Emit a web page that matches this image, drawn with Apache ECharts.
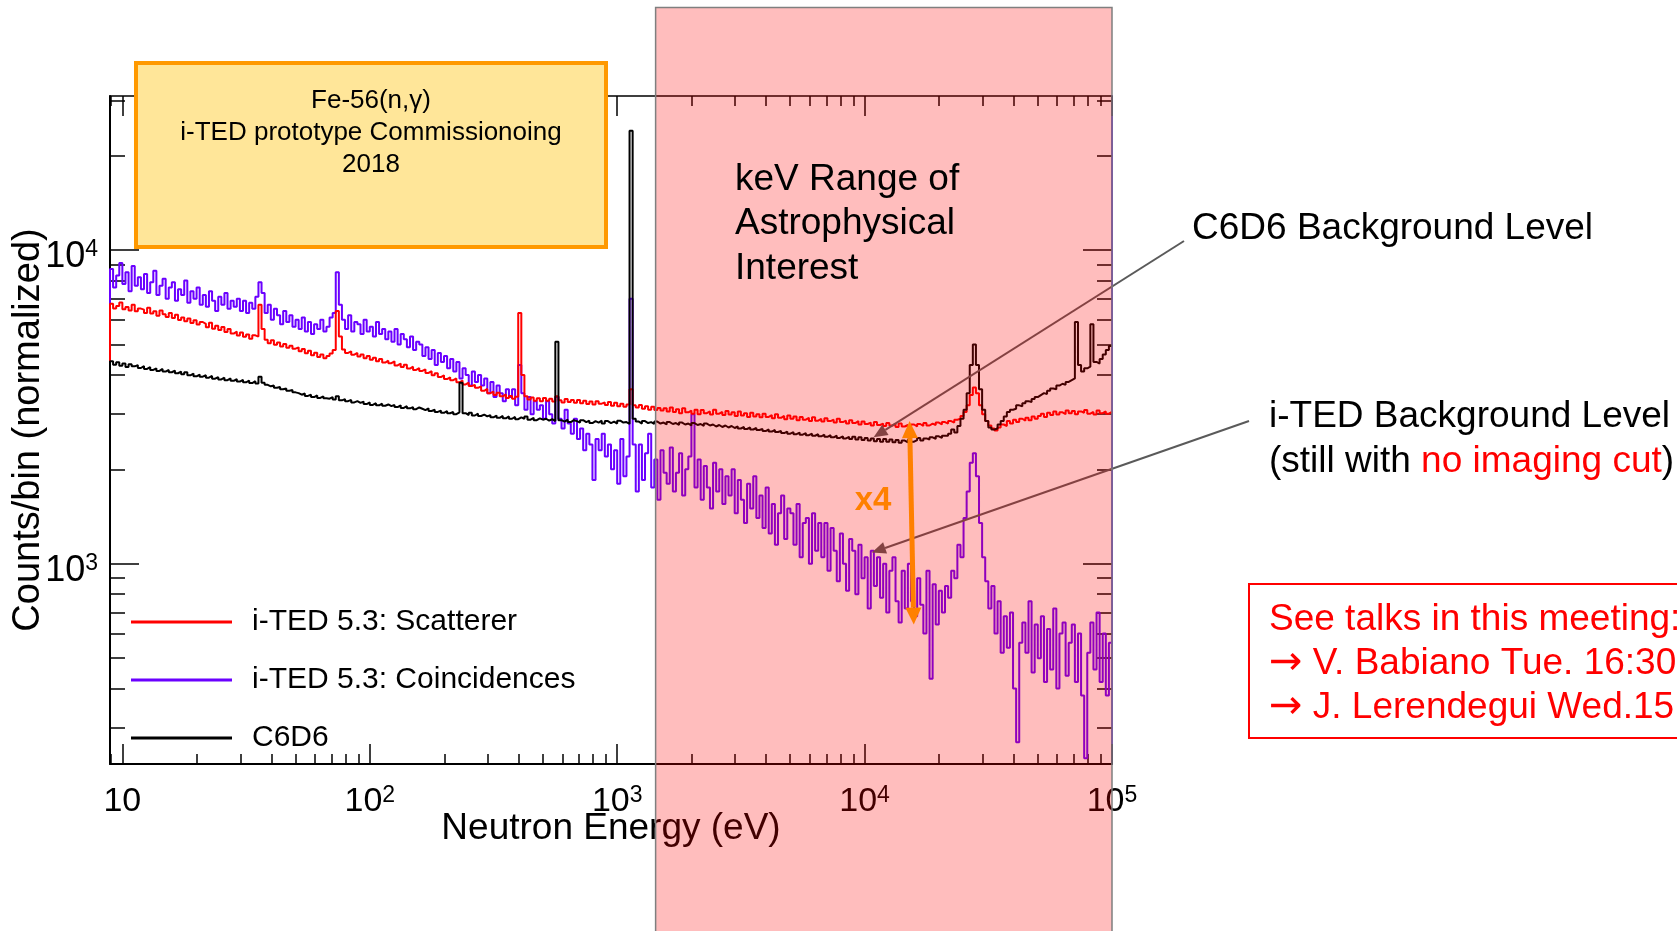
<!DOCTYPE html>
<html>
<head>
<meta charset="utf-8">
<script src="https://cdn.jsdelivr.net/npm/echarts@6/dist/echarts.min.js"></script>
<style>
  html, body { margin: 0; padding: 0; background: #ffffff; }
  #chart { width: 1677px; height: 931px; }
</style>
</head>
<body>
<div id="chart"></div>
<script>
const FONT = '"Liberation Sans", Arial, Helvetica, sans-serif';

// Histogram binning: equal-width bins in log10(E / eV)
const BIN_LOG_START = 0.95;
const BIN_LOG_WIDTH = 0.0125;

const seriesNames = ['i-TED 5.3: Scatterer', 'i-TED 5.3: Coincidences', 'C6D6'];
const seriesColors = ['#ff0000', '#6a00ff', '#000000'];

// Counts per bin (normalized)
const scattererCounts = [
  6750, 6520, 6640, 6810, 6480, 6590, 6420, 6700, 6380, 6510,
  6460, 6300, 6550, 6280, 6390, 6180, 6420, 6250, 6120, 6300,
  6080, 6220, 5990, 6100, 5930, 6050, 5860, 5980, 5790, 5900,
  5820, 5680, 5870, 5610, 5740, 5560, 5690, 5480, 5600, 5420,
  5500, 5340, 5460, 5290, 5380, 5220, 5350, 5300, 6700, 5600,
  5180, 5050, 5160, 4990, 5080, 4930, 5020, 4880, 4960, 4850,
  4900, 4760, 4840, 4690, 4780, 4620, 4710, 4560, 4650, 4520,
  4600, 4680, 4800, 6400, 5300, 4820, 4700, 4760, 4640, 4700,
  4580, 4650, 4520, 4600, 4470, 4540, 4420, 4500, 4380, 4440,
  4360, 4420, 4290, 4350, 4240, 4310, 4190, 4250, 4150, 4210,
  4120, 4170, 4060, 4110, 3990, 4050, 3940, 3990, 3880, 3930,
  3850, 3900, 3790, 3840, 3730, 3780, 3690, 3720, 3640, 3680,
  3560, 3610, 3500, 3540, 3450, 3510, 3420, 3470, 3380, 3430,
  3360, 3410, 6300, 4000, 3420, 3340, 3390, 3310, 3370, 3300,
  3380, 3310, 3360, 3290, 3420, 3320, 3270, 3350, 3280, 3330,
  3260, 3330, 3250, 3310, 3230, 3290, 3220, 3300, 3240, 3270,
  3210, 3280, 3190, 3260, 3180, 3240, 3170, 3220, 3600, 3200,
  3150, 3210, 3120, 3180, 3100, 3170, 3090, 3140, 3080, 3130,
  3060, 3150, 3050, 3110, 3020, 3130, 3040, 3080, 3010, 3100,
  3000, 3090, 3020, 3060, 2990, 3100, 3010, 3050, 2980, 3070,
  2990, 3040, 2960, 3060, 2970, 3020, 2940, 3030, 2950, 3000,
  2930, 3010, 2940, 2980, 2910, 3000, 2920, 2960, 2890, 2970,
  2900, 2950, 2870, 2940, 2880, 2920, 2850, 2930, 2860, 2900,
  2840, 2910, 2850, 2880, 2820, 2900, 2830, 2860, 2800, 2870,
  2810, 2850, 2780, 2840, 2790, 2820, 2760, 2830, 2770, 2800,
  2750, 2810, 2760, 2790, 2730, 2800, 2740, 2770, 2720, 2780,
  2740, 2790, 2750, 2810, 2760, 2800, 2770, 2820, 2780, 2830,
  2800, 2850, 2820, 2880, 2900, 2960, 3050, 3200, 3450, 3650,
  3500, 3200, 3000, 2850, 2760, 2700, 2660, 2720, 2780, 2750,
  2850, 2800, 2880, 2830, 2900, 2860, 2920, 2870, 2950, 2900,
  2960, 3010, 2940, 3030, 2980, 3060, 2990, 3040, 3000, 3080,
  3020, 3070, 3000, 3060, 3030, 3090, 3010, 3050, 2990, 3080,
  3020, 3060, 3010, 3050
];
const coincidenceCounts = [
  8700, 7600, 8300, 9100, 7800, 8500, 7400, 8900, 7700, 8200,
  7500, 8400, 7300, 7900, 8600, 7200, 7700, 8100, 7000, 7600,
  7900, 6900, 7500, 7200, 8000, 6800, 7400, 7000, 7600, 6700,
  7200, 6600, 7400, 6900, 6400, 7100, 6700, 7300, 6500, 6900,
  6600, 7000, 6400, 6900, 6300, 6800, 6500, 7100, 7900, 7300,
  6300, 6700, 6000, 6500, 6200, 5800, 6400, 5900, 6200, 5700,
  6000, 5600, 6100, 5500, 5900, 5400, 5800, 5600, 6000, 5500,
  5700, 6100, 6300, 8500, 6700, 6000, 5600, 6200, 5500, 5900,
  5800, 5400, 6000, 5500, 5700, 5300, 5900, 5400, 5600, 5200,
  5500, 5100, 5600, 5000, 5400, 5200, 4900, 5300, 4800, 5100,
  5000, 4600, 4900, 4500, 4800, 4300, 4700, 4400, 4600, 4200,
  4500, 4100, 4400, 3900, 4200, 4000, 3700, 4100, 3800, 4000,
  3700, 3900, 3500, 3800, 3400, 3700, 3500, 3300, 3600, 3400,
  3600, 3200, 4300, 3500, 3100, 3400, 3000, 3300, 3100, 3200,
  2900, 3300, 3000, 2800, 3400, 2900, 2700, 3100, 2800, 2600,
  2900, 2500, 2700, 2300, 2600, 2400, 1850, 2500, 2300, 2600,
  2200, 2400, 2000, 2300, 1800, 2500, 1900, 2200, 7000, 2400,
  1700, 2400, 1850, 2250, 2600, 1750, 2150, 1600, 2300, 1950,
  1800, 2350, 1700, 1950, 2250, 1650, 2000, 2200, 3000, 1750,
  2150, 1600, 2050, 1750, 1500, 2100, 1700, 2000, 1550, 1900,
  1650, 2000, 1450, 1850, 1600, 1350, 1800, 1500, 1900, 1400,
  1650, 1300, 1750, 1250, 1550, 1150, 1450, 1650, 1200, 1500,
  1450, 1150, 1550, 1050, 1350, 1400, 1000, 1450, 1100, 1350,
  1050, 1350, 950, 1300, 1100, 880, 1250, 1000, 820, 1200,
  1100, 800, 1150, 900, 1050, 720, 1100, 850, 1050, 780,
  1000, 700, 950, 1050, 760, 650, 950, 720, 1000, 760,
  680, 900, 740, 600, 950, 430, 860, 640, 820, 700,
  850, 780, 950, 900, 1150, 1050, 1400, 1700, 2100, 2250,
  1900, 1350, 1050, 880, 720, 850, 600, 760, 520, 680,
  540, 700, 400, 270, 560, 650, 520, 760, 450, 640,
  500, 680, 420, 620, 460, 720, 400, 600, 650, 440,
  560, 640, 420, 600, 380, 240, 520, 650, 460, 700,
  420, 600, 380, 560
];
const c6d6Counts = [
  4420, 4310, 4390, 4280, 4350, 4240, 4330, 4260, 4300, 4210,
  4270, 4180, 4240, 4150, 4200, 4120, 4180, 4100, 4150, 4080,
  4130, 4050, 4100, 4020, 4080, 3990, 4040, 3960, 4010, 3950,
  3990, 3920, 3970, 3890, 3940, 3870, 3920, 3850, 3900, 3830,
  3880, 3810, 3860, 3790, 3840, 3770, 3820, 3760, 3950, 3780,
  3720, 3680, 3700, 3640, 3660, 3600, 3620, 3560, 3580, 3520,
  3500, 3460, 3490, 3430, 3460, 3400, 3440, 3380, 3420, 3370,
  3360, 3400, 3340, 3420, 3320, 3350, 3300, 3330, 3270, 3300,
  3260, 3290, 3230, 3270, 3210, 3250, 3200, 3240, 3190, 3220,
  3180, 3210, 3160, 3200, 3140, 3180, 3130, 3160, 3110, 3150,
  3120, 3090, 3130, 3070, 3100, 3050, 3080, 3030, 3070, 3020,
  3050, 3000, 3040, 3780, 3020, 2980, 3030, 2970, 3010, 2960,
  2990, 2950, 2980, 2930, 2970, 2920, 2960, 2910, 2950, 2900,
  2940, 2890, 2930, 2900, 2950, 2880, 2920, 2870, 2910, 2880,
  2900, 2860, 2890, 2850, 5100, 2870, 2840, 2880, 2830, 2870,
  2850, 2820, 2870, 2830, 2860, 2810, 2850, 2820, 2860, 2800,
  2850, 2810, 2840, 2800, 2860, 2820, 2830, 2790, 24000, 2900,
  2840, 2800, 2850, 2810, 2830, 2790, 2840, 2800, 2820, 2780,
  2830, 2790, 2810, 2770, 2820, 2780, 2800, 2760, 2810, 2770,
  2790, 2750, 2800, 2760, 2780, 2740, 2770, 2730, 2760, 2720,
  2750, 2710, 2740, 2700, 2730, 2690, 2720, 2680, 2710, 2670,
  2690, 2650, 2680, 2640, 2670, 2630, 2650, 2610, 2640, 2600,
  2630, 2590, 2620, 2580, 2610, 2570, 2600, 2560, 2590, 2550,
  2580, 2540, 2570, 2530, 2560, 2520, 2550, 2510, 2540, 2500,
  2540, 2490, 2530, 2480, 2520, 2470, 2510, 2460, 2500, 2450,
  2500, 2450, 2490, 2440, 2480, 2430, 2470, 2440, 2490, 2450,
  2480, 2520, 2470, 2510, 2490, 2530, 2500, 2550, 2520, 2560,
  2560, 2600, 2680, 2620, 2750, 2900, 3100, 3500, 4300, 5000,
  4300, 3600, 3100, 2850, 2720, 2680, 2700, 2780, 2850, 2950,
  3050, 3100, 3120, 3200, 3180, 3250, 3300, 3280, 3350, 3400,
  3450, 3500, 3480, 3560, 3620, 3600, 3700, 3750, 3720, 3800,
  3850, 3900, 5900, 4300, 4100, 4200, 4250, 5800, 4400, 4350,
  4500, 4650, 4800, 4950
];

// Axes
const xRange = [Math.pow(10, BIN_LOG_START), 100000];
const yRange = [230, 31000];
const xMajorTicks = [10, 100, 1000, 10000, 100000];
const xTickExponents = ['', '2', '3', '4', '5'];
const yMajorTicks = [1000, 10000];
const yTickExponents = ['3', '4'];
const minorMantissas = [2, 3, 4, 5, 6, 7, 8, 9];
const xTitle = 'Neutron Energy (eV)';
const yTitle = 'Counts/bin (normalized)';

// Annotated energy window and levels
const kevBand = [1430, 100000];
const c6d6LevelPoint = [10870, 2530];
const itedLevelPoint = [10700, 1086];
const ratioArrow = [[15200, 2850], [15800, 640]];

function minorTicks(range) {
  const out = [];
  for (let d = 1; d <= 1e5; d *= 10) {
    minorMantissas.forEach(m => {
      const v = m * d;
      if (v > range[0] && v < range[1]) out.push(v);
    });
  }
  return out;
}
const xMinorTicks = minorTicks(xRange);
const yMinorTicks = minorTicks(yRange);

function histogramSteps(counts) {
  const pts = [[Math.pow(10, BIN_LOG_START), yRange[0]]];
  counts.forEach((c, i) => pts.push([Math.pow(10, BIN_LOG_START + i * BIN_LOG_WIDTH), c]));
  pts.push([Math.pow(10, BIN_LOG_START + counts.length * BIN_LOG_WIDTH), counts[counts.length - 1]]);
  return pts;
}

function supLabel(exps, ticks, v) {
  const i = ticks.findIndex(t => Math.abs(t - v) / t < 1e-6);
  if (i < 0) return '';
  return exps[i] ? '{b|10}{s|' + exps[i] + '}' : '{b|10}';
}

const AX = '#000000';
function logAxis(range, pos, ticks, len, extra) {
  return Object.assign({
    type: 'log', logBase: 10, position: pos, min: range[0], max: range[1],
    axisLine: { show: false },
    axisTick: { show: true, inside: true, length: len, customValues: ticks, lineStyle: { color: AX, width: 1.5 } },
    axisLabel: { show: false },
    splitLine: { show: false }, minorTick: { show: false }, minorSplitLine: { show: false }
  }, extra || {});
}

const option = {
  animation: false,
  backgroundColor: '#ffffff',
  textStyle: { fontFamily: FONT },
  grid: { left: 110, right: 565, top: 96, bottom: 167, containLabel: false, outerBoundsMode: 'none' },
  legend: {
    data: seriesNames, orient: 'vertical', left: 126, top: 602,
    icon: 'rect', itemWidth: 101, itemHeight: 3, itemGap: 28,
    selectedMode: false,
    textStyle: { fontSize: 30, fontFamily: FONT, color: '#000', padding: [0, 0, 0, 15] }
  },
  xAxis: [
    logAxis(xRange, 'bottom', xMajorTicks, 20, {
      axisLine: { show: true, lineStyle: { color: AX, width: 2 } },
      axisLabel: {
        show: true, customValues: xMajorTicks, margin: 20,
        formatter: v => supLabel(xTickExponents, xMajorTicks, v),
        rich: {
          b: { fontSize: 34, fontFamily: FONT, color: '#000', lineHeight: 36 },
          s: { fontSize: 23, fontFamily: FONT, color: '#000', verticalAlign: 'top', lineHeight: 23 }
        }
      },
      name: xTitle, nameLocation: 'middle', nameGap: 46, nameMoveOverlap: false,
      nameTextStyle: { fontSize: 37, fontFamily: FONT, color: '#000' }
    }),
    logAxis(xRange, 'bottom', xMinorTicks, 10),
    logAxis(xRange, 'top', xMajorTicks, 20, { axisLine: { show: true, lineStyle: { color: AX, width: 1.5 } } }),
    logAxis(xRange, 'top', xMinorTicks, 10)
  ],
  yAxis: [
    logAxis(yRange, 'left', yMajorTicks, 29, {
      axisLine: { show: true, lineStyle: { color: AX, width: 2 } },
      axisLabel: {
        show: true, customValues: yMajorTicks, margin: 12, padding: [14, 0, 0, 0],
        formatter: v => supLabel(yTickExponents, yMajorTicks, v),
        rich: {
          b: { fontSize: 36, fontFamily: FONT, color: '#000', lineHeight: 38 },
          s: { fontSize: 23, fontFamily: FONT, color: '#000', verticalAlign: 'top', lineHeight: 23 }
        }
      },
      name: yTitle, nameLocation: 'middle', nameGap: 62, nameRotate: 90, nameMoveOverlap: false,
      nameTextStyle: { fontSize: 38, fontFamily: FONT, color: '#000' }
    }),
    logAxis(yRange, 'left', yMinorTicks, 15),
    logAxis(yRange, 'right', yMajorTicks, 29, { axisLine: { show: true, lineStyle: { color: seriesColors[1], width: 2 } } }),
    logAxis(yRange, 'right', yMinorTicks, 15)
  ],
  series: [
    { name: seriesNames[1], data: histogramSteps(coincidenceCounts), color: seriesColors[1] },
    { name: seriesNames[0], data: histogramSteps(scattererCounts), color: seriesColors[0] },
    { name: seriesNames[2], data: histogramSteps(c6d6Counts), color: seriesColors[2] }
  ].map(s => Object.assign({
    type: 'line', step: 'end', symbol: 'none', showSymbol: false,
    xAxisIndex: 0, yAxisIndex: 0, clip: true,
    lineStyle: { width: 2, color: s.color }, itemStyle: { color: s.color },
    emphasis: { disabled: true }
  }, s))
};

const chart = echarts.init(document.getElementById('chart'), null, { renderer: 'canvas', width: 1677, height: 931 });
chart.setOption(option);

// Annotation layer
const px = (x, y) => chart.convertToPixel({ xAxisIndex: 0, yAxisIndex: 0 }, [x, y]);

function head(tip, from, len, half) {
  const dx = tip[0] - from[0], dy = tip[1] - from[1];
  const d = Math.hypot(dx, dy), ux = dx / d, uy = dy / d;
  const bx = tip[0] - ux * len, by = tip[1] - uy * len;
  return { base: [bx, by], points: [tip, [bx - uy * half, by + ux * half], [bx + uy * half, by - ux * half]] };
}

function pointer(from, tipData, z) {
  const tip = px(tipData[0], tipData[1]);
  const h = head(tip, from, 14, 6);
  return [
    { type: 'line', z: z, shape: { x1: from[0], y1: from[1], x2: h.base[0], y2: h.base[1] }, style: { stroke: '#5a5a5a', lineWidth: 2 } },
    { type: 'polygon', z: z, shape: { points: h.points }, style: { fill: '#5a5a5a' } }
  ];
}

function txt(x, y, text, size, color, extra) {
  return {
    type: 'text', z: 60, x: x, y: y,
    style: Object.assign({
      text: text, font: size + 'px ' + FONT, fill: color,
      align: 'left', textAlign: 'left', verticalAlign: 'middle', textVerticalAlign: 'middle'
    }, extra || {})
  };
}
const centered = { align: 'center', textAlign: 'center' };
const ARROW_FONT = '"DejaVu Sans", sans-serif';
const arrowRich = {
  a: { fill: '#ff0000', color: '#ff0000', fontSize: 40, fontFamily: ARROW_FONT },
  t: { fill: '#ff0000', color: '#ff0000', fontSize: 37, fontFamily: FONT }
};

const bandL = px(kevBand[0], yRange[1])[0];
const bandR = px(kevBand[1], yRange[1])[0];
const r0 = px(ratioArrow[0][0], ratioArrow[0][1]);
const r1 = px(ratioArrow[1][0], ratioArrow[1][1]);
const hTop = head(r0, r1, 17, 8);
const hBot = head(r1, r0, 17, 8);

const ORANGE = '#ff8000';
const elements = [
  // Title box
  { type: 'rect', z: 45, shape: { x: 136, y: 63, width: 470, height: 184 },
    style: { fill: '#ffe699', stroke: '#ff9900', lineWidth: 4 } },
  txt(371, 101, 'Fe-56(n,\u03b3)', 26, '#000', centered),
  txt(371, 133, 'i-TED prototype Commissionoing', 26, '#000', centered),
  txt(371, 165, '2018', 26, '#000', centered),

  // Pointers to the background levels (under the shaded band)
  ...pointer([1184, 241], c6d6LevelPoint, 40),
  ...pointer([1249, 421], itedLevelPoint, 40),

  // keV band
  { type: 'rect', z: 50, shape: { x: bandL, y: 7.5, width: bandR - bandL, height: 940 },
    style: { fill: 'rgba(255,0,0,0.26)', stroke: '#7f7f7f', lineWidth: 1.5 } },
  txt(735, 180, 'keV Range of', 37, '#000'),
  txt(735, 224, 'Astrophysical', 37, '#000'),
  txt(735, 269, 'Interest', 37, '#000'),

  // Ratio arrow between the two levels
  { type: 'line', z: 60, shape: { x1: hTop.base[0], y1: hTop.base[1], x2: hBot.base[0], y2: hBot.base[1] },
    style: { stroke: ORANGE, lineWidth: 5 } },
  { type: 'polygon', z: 60, shape: { points: hTop.points }, style: { fill: ORANGE } },
  { type: 'polygon', z: 60, shape: { points: hBot.points }, style: { fill: ORANGE } },
  txt(873, 501, 'x4', 33, ORANGE, { align: 'center', textAlign: 'center', font: 'bold 33px ' + FONT }),

  // Side annotations
  txt(1192, 229, 'C6D6 Background Level', 37, '#000'),
  txt(1269, 417, 'i-TED Background Level', 37, '#000'),
  txt(1269, 462, '{k|(still with }{r|no imaging cut}{k|)}', 37, '#000', {
    rich: {
      k: { fill: '#000', color: '#000', fontSize: 37, fontFamily: FONT },
      r: { fill: '#ff0000', color: '#ff0000', fontSize: 37, fontFamily: FONT }
    }
  }),
  { type: 'rect', z: 45, shape: { x: 1249, y: 584, width: 600, height: 154 },
    style: { fill: '#ffffff', stroke: '#ff0000', lineWidth: 2 } },
  txt(1269, 620, 'See talks in this meeting:', 37, '#ff0000'),
  txt(1269, 664, '{a|\u2192}{t| V. Babiano Tue. 16:30}', 37, '#ff0000', { rich: arrowRich }),
  txt(1269, 708, '{a|\u2192}{t| J. Lerendegui Wed.15}', 37, '#ff0000', { rich: arrowRich })
];

chart.setOption({ graphic: { elements: elements } });
</script>
</body>
</html>
